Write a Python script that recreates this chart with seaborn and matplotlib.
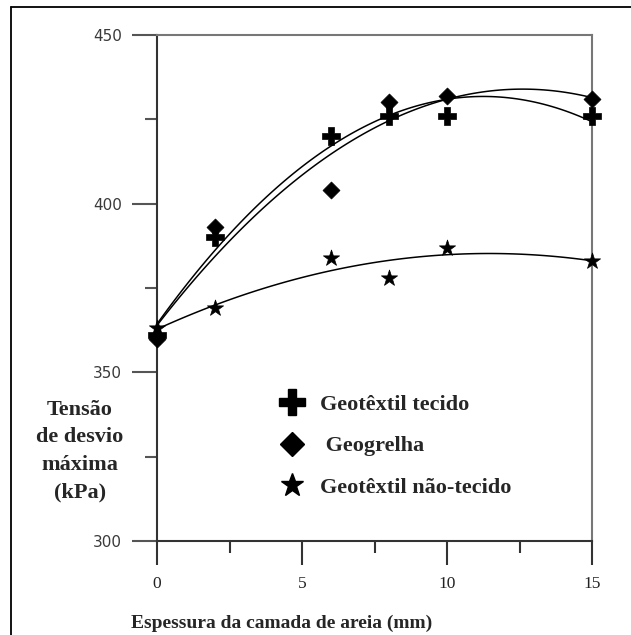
import numpy as np
import pandas as pd
import matplotlib
matplotlib.use("Agg")
import matplotlib.pyplot as plt
from matplotlib.lines import Line2D
import seaborn as sns

sns.set_style("white")
plt.rcParams['font.family'] = ['Liberation Serif', 'DejaVu Serif']

# Data
espessura = [0, 2, 6, 8, 10, 15]
tecido = [361, 390, 420, 426, 426, 426]
geogrelha = [360, 393, 404, 430, 432, 431]
nao_tecido = [363, 369, 384, 378, 387, 383]
series_names = ["Geotêxtil tecido", " Geogrelha", "Geotêxtil não-tecido"]
markers = ["P", "D", "*"]
msizes = [150, 75, 150]
yticks = [300, 350, 400, 450]
xticks = [0, 5, 10, 15]

df = pd.DataFrame({
    "x": espessura * 3,
    "y": tecido + geogrelha + nao_tecido,
    "s": sum([[n] * len(espessura) for n in series_names], []),
})

fig = plt.figure(figsize=(6.31, 6.35), dpi=100)
ax = fig.add_axes([157/631, 1-541/635, 435/631, 506/635])

for name, m, ms in zip(series_names, markers, msizes):
    sub = df[df.s == name]
    sns.regplot(data=sub, x="x", y="y", order=2, ci=None, scatter=False, ax=ax,
                truncate=True, line_kws=dict(color="black", lw=1.1))
    sns.scatterplot(data=sub, x="x", y="y", marker=m, s=ms, color="black",
                    edgecolor="black", linewidth=0.5, ax=ax, zorder=5, legend=False,
                    clip_on=False)

ax.set_xlim(0, 15)
ax.set_ylim(300, 450)
ax.set_xticks(xticks)
ax.set_xticks([2.5, 7.5, 12.5], minor=True)
ax.set_yticks(yticks)
ax.set_yticks([325, 375, 425], minor=True)
ax.set_yticklabels([str(v) for v in yticks], family=['DejaVu Sans'], color="#3a3a3a", fontsize=11)
ax.set_xticklabels([str(v) for v in xticks], fontsize=12.5, color="#222222")
ax.tick_params(axis="x", which="major", direction="out", length=17, width=1.5, color="#333333", pad=8, bottom=True)
ax.tick_params(axis="x", which="minor", direction="out", length=8.5, width=1.5, color="#333333", bottom=True)
ax.tick_params(axis="y", which="major", direction="out", length=18, width=1.5, color="#555555", pad=7, left=True)
ax.tick_params(axis="y", which="minor", direction="out", length=9, width=1.5, color="#555555", left=True)

for side in ["left", "bottom"]:
    ax.spines[side].set_color("#333333")
    ax.spines[side].set_linewidth(1.5)
for side in ["top", "right"]:
    ax.spines[side].set_visible(True)
    ax.spines[side].set_color("#777777")
    ax.spines[side].set_linewidth(1.5)

ax.set_xlabel("Espessura da camada de areia (mm)", fontsize=14, fontweight="bold")
ax.xaxis.set_label_coords(0.287, -0.162)
ax.xaxis.label.set_va("center")
ax.set_ylabel("Tensão\nde desvio\nmáxima\n(kPa)", fontsize=16, fontweight="bold",
              rotation=0, ha="center", va="center", linespacing=1.5)
ax.yaxis.set_label_coords(-0.177, 0.178)

handles = [Line2D([], [], marker=m, color="black", linestyle="none", markersize=s)
           for m, s in zip(markers, [19, 12.5, 17])]
leg = ax.legend(handles, series_names, loc="upper left", bbox_to_anchor=(0.279, 0.29),
                frameon=False, prop=dict(family="Liberation Serif", weight="bold", size=16),
                labelspacing=0.95, handletextpad=0.68, handlelength=1.2,
                borderpad=0, borderaxespad=0)

# outer frame (top and left)
fig.add_artist(Line2D([11/631, 11/631], [0, 1-7/635], color="black", lw=1.3, transform=fig.transFigure))
fig.add_artist(Line2D([11/631, 1], [1-7/635, 1-7/635], color="black", lw=1.3, transform=fig.transFigure))

fig.savefig("out.png", dpi=100)
